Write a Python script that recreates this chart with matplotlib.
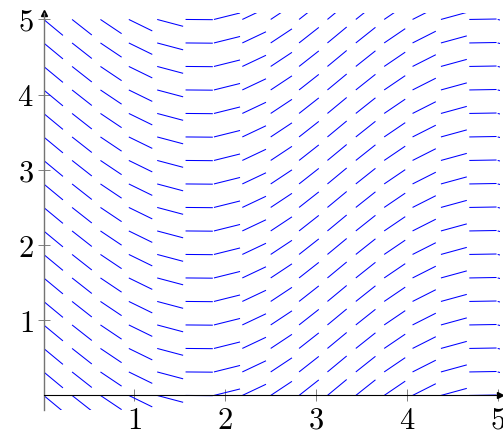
import numpy as np
import matplotlib
matplotlib.use("Agg")
import matplotlib.pyplot as plt
from matplotlib.collections import LineCollection

plt.rcParams['mathtext.fontset'] = 'cm'

# grid of the slope field (17 samples each way)
xs = np.linspace(0, 5, 17)
ys = np.linspace(0, 5, 17)
# slope read for each column (it only changes with x)
slopes = [-1.0, -0.95, -0.81, -0.59, -0.32, -0.01, 0.30, 0.57, 0.80,
          0.95, 1.0, 0.96, 0.82, 0.61, 0.33, 0.02, -0.28]
seg_len = 0.3

xticks = [1, 2, 3, 4, 5]
yticks = [1, 2, 3, 4, 5]

fig = plt.figure(figsize=(5.03, 4.33), dpi=100)
ax = fig.add_axes([43.7/503, 0.052, (500.4-43.7)/503, 0.9187])

segs = []
for x, m in zip(xs, slopes):
    dx = seg_len / np.sqrt(1 + m*m)
    for y in ys:
        segs.append([(x, y), (x + dx, y + m*dx)])
lc = LineCollection(segs, colors='#0000ff', linewidths=0.75)
ax.add_collection(lc)

ax.set_xlim(0, 5.03)
ax.set_ylim(-0.2, 5.09)

for s in ['top', 'right']:
    ax.spines[s].set_visible(False)
ax.spines['left'].set_position(('data', 0))
ax.spines['bottom'].set_position(('data', 0))
ax.spines['left'].set_color('0.45')
ax.spines['left'].set_linewidth(1.0)
ax.spines['bottom'].set_color('black')
ax.spines['bottom'].set_linewidth(0.8)

ax.set_xticks(xticks)
ax.set_yticks(yticks)
ax.set_xticklabels([f'${t}$' for t in xticks])
ax.set_yticklabels([f'${t}$' for t in yticks])
ax.tick_params(direction='inout', length=8.6, width=0.7, color='0.5',
               labelsize=22, pad=3)

ax.plot(1, 0, marker='>', color='black', markersize=5,
        transform=ax.get_yaxis_transform(), clip_on=False)
ax.plot(0, 1, marker='^', color='black', markersize=5,
        transform=ax.get_xaxis_transform(), clip_on=False)

fig.savefig('out.png', dpi=100)
